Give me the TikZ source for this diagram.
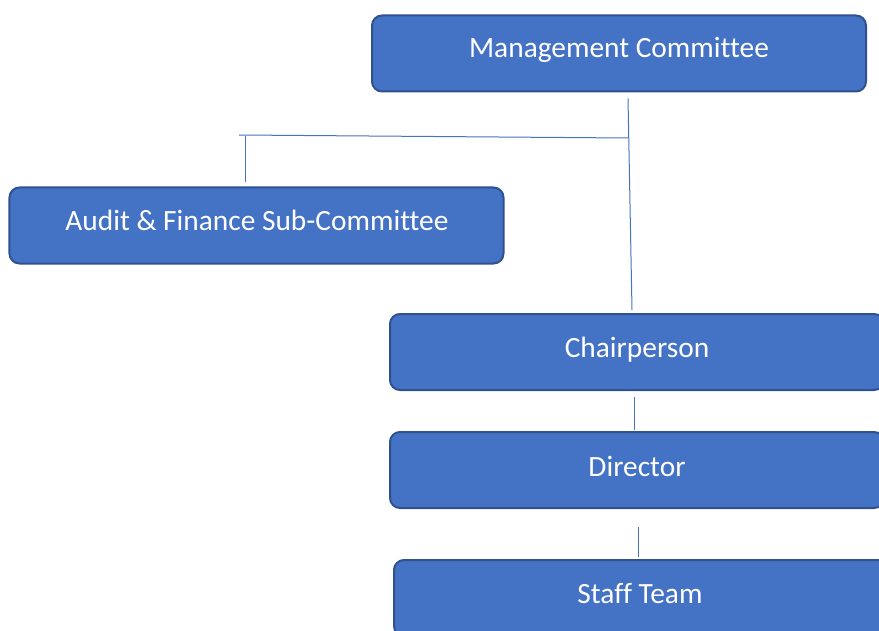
\documentclass[tikz,border=0pt]{standalone}
\usepackage{fontspec}
\setmainfont{Carlito}[Ligatures=NoCommon]
\usetikzlibrary{positioning}
\usetikzlibrary{calc}

\definecolor{boxfill}{HTML}{4472C4}
\definecolor{boxline}{HTML}{2F528F}

\tikzset{
    orgbox/.style={draw=boxline, line width=2bp, fill=boxfill, rounded corners=10bp,
        minimum width=494bp, minimum height=76bp, inner sep=0pt},
    orgtext/.style={text=white, font=\fontsize{29.5}{35}\selectfont},
    orgline/.style={draw=boxfill, line width=1bp}
}

\begin{document}
\begin{tikzpicture}[x=1bp, y=-1bp]
            \useasboundingbox (0,0) rectangle (879,631);

            \node[orgbox] (mgmt) at (619,53.5) {};
            \node[orgtext] (mgmtT) at (619,50) {Management Committee};
            \node[orgbox] (audit) at (256.5,225.5) {};
            \node[orgtext] (auditT) at (257,220.5) {Audit \& Finance Sub-Committee};
            \node[orgbox] (chair) at (637,352) {};
            \node[orgtext] (chairT) at (637,349.5) {Chairperson};
            \node[orgbox] (dir) at (637,470) {};
            \node[orgtext] (dirT) at (637,466) {Director};
            \node[orgbox] (staff) at (641,598) {};
            \node[orgtext] (staffT) at (640,593.5) {Staff Team};

            \coordinate (barL) at (239,135);
            \coordinate (barR) at (628,138);
            \coordinate (barA) at (245,136);

            \draw[orgline] ($(mgmt.south)+(9,6)$) -- ($(chair.north)+(-5,-3)$);
            \draw[orgline] (barL) -- (barR);
            \draw[orgline] (barA) -- ($(audit.north)+(-11.5,-4)$);
            \draw[orgline] ($(chair.south)+(-3,6)$) -- ($(dir.north)+(-3,-1)$);
            \draw[orgline] ($(dir.south)+(1,18)$) -- ($(staff.north)+(-3,-2)$);
        \end{tikzpicture}
\end{document}
